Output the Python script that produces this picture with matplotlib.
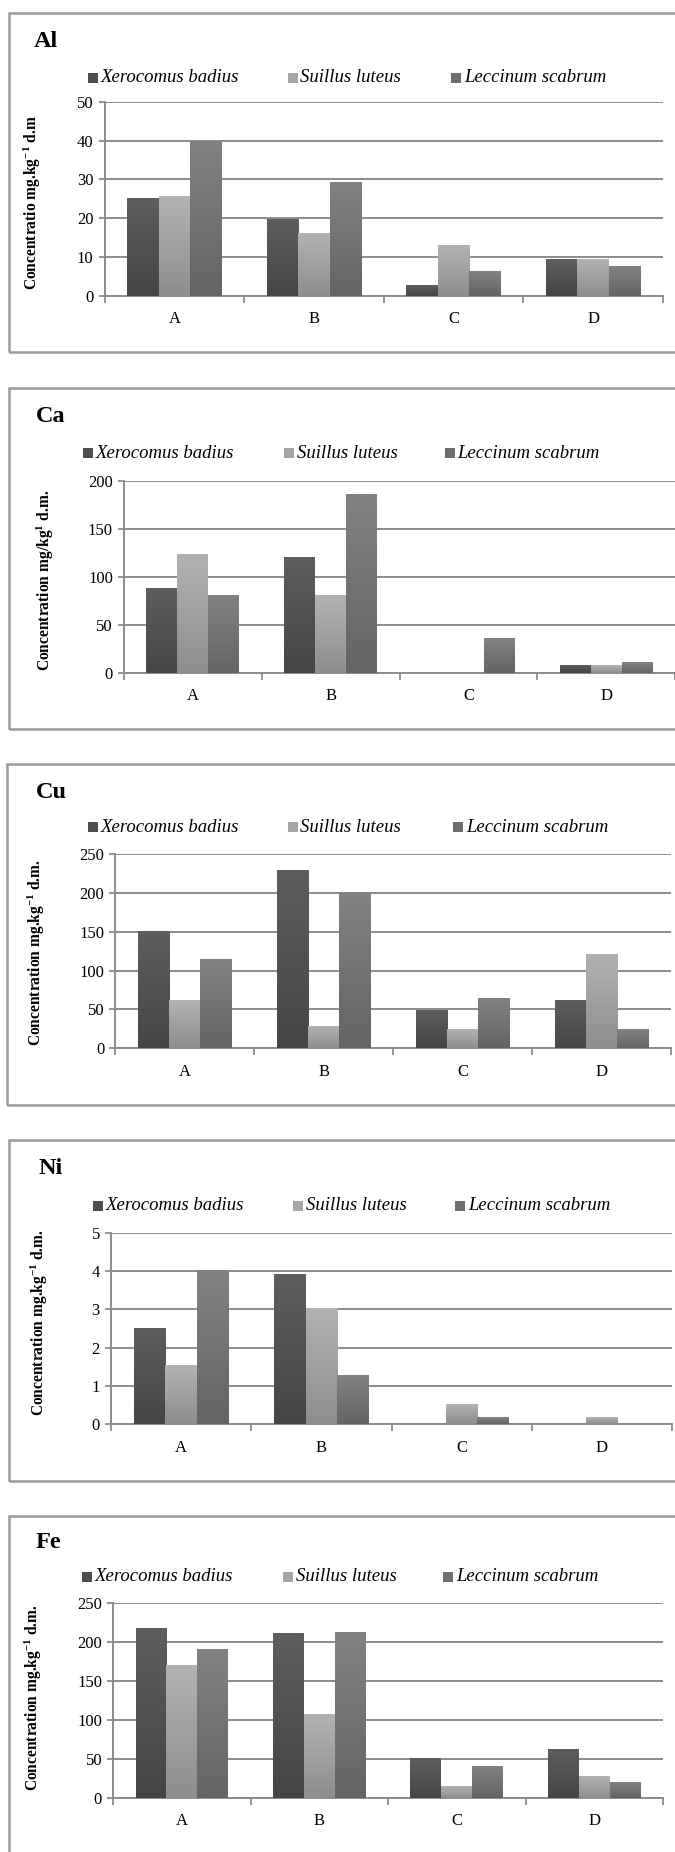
import matplotlib
matplotlib.use("Agg")
import matplotlib.pyplot as plt
import numpy as np
from matplotlib.patches import Rectangle

plt.rcParams['font.family'] = ['Liberation Serif', 'DejaVu Serif']
plt.rcParams['mathtext.fontset'] = 'custom'
plt.rcParams['mathtext.rm'] = 'Liberation Serif'
plt.rcParams['mathtext.bf'] = 'Liberation Serif:bold'
plt.rcParams['mathtext.it'] = 'Liberation Serif:italic'

# Dados
categorias = ["A", "B", "C", "D"]
especies = ["Xerocomus badius", "Suillus luteus", "Leccinum scabrum"]

al_valores = [[25.0, 19.6, 2.8, 9.3],
              [25.5, 16.0, 13.1, 9.3],
              [39.7, 29.3, 6.2, 7.5]]
ca_valores = [[87.8, 120.1, 0.0, 7.6],
              [123.6, 80.6, 0.0, 7.6],
              [80.6, 186.1, 36.1, 10.8]]
cu_valores = [[150.1, 228.1, 48.0, 60.9],
              [60.9, 27.4, 24.4, 120.1],
              [114.5, 200.7, 63.5, 24.4]]
ni_valores = [[2.50, 3.90, 0.0, 0.0],
              [1.52, 3.01, 0.50, 0.17],
              [4.01, 1.26, 0.17, 0.0]]
fe_valores = [[218.3, 211.8, 50.2, 62.6],
              [170.7, 107.6, 15.0, 27.9],
              [191.3, 213.1, 40.7, 20.2]]

elementos = ["Al", "Ca", "Cu", "Ni", "Fe"]
y_maximos = [50, 200, 250, 5, 250]
y_passos = [10, 50, 50, 1, 50]
y_rotulos = [r"Concentratio mg.kg$^{\mathbf{-1}}$ d.m",
             r"Concentration mg/kg$^{\mathbf{1}}$ d.m.",
             r"Concentration mg.kg$^{\mathbf{-1}}$ d.m.",
             r"Concentration mg.kg$^{\mathbf{-1}}$ d.m.",
             r"Concentration mg.kg$^{\mathbf{-1}}$ d.m."]
todos_valores = [al_valores, ca_valores, cu_valores, ni_valores, fe_valores]

# Layout em pixels (x0, x1, y_topo, y_base) de cada painel
W, H = 675, 1852
eixos_px = [(104.6, 663, 101.7, 296.0),
            (124.0, 675, 480.7, 672.7),
            (115.4, 671, 854.0, 1048.3),
            (111.0, 672, 1232.7, 1424.3),
            (113.2, 663, 1603.3, 1797.7)]
molduras_px = [(8.6, 12.7, 352.0), (8.6, 388.3, 729.0), (7.3, 764.0, 1105.0),
               (8.6, 1140.0, 1481.0), (8.6, 1516.5, 1900.0)]
titulos_px = [(34, 41.7), (36, 416.7), (36, 793.0), (39, 1168.3), (36, 1543.0)]
legendas_px = [(77.7, [88, 287.5, 451]), (453.3, [83, 284, 444.7]),
               (827.3, [88, 287.5, 453]), (1206.0, [92.5, 292.7, 455]),
               (1576.7, [81.8, 283, 443.4])]
ylabel_px = [(32, 203), (45, 580), (36.6, 953), (39.6, 1323), (33.6, 1698)]

cores_topo = ["#5e5e5e", "#b2b2b2", "#828282"]
cores_base = ["#454545", "#8e8e8e", "#646464"]
cores_legenda = ["#4e4e4e", "#a6a6a6", "#6e6e6e"]
cinza = "#8c8c8c"

fig = plt.figure(figsize=(W / 100, H / 100), dpi=100)

def fx(px):
    return px / W

def fy(py):
    return 1 - py / H

def gradiente(c_topo, c_base):
    t = np.array(matplotlib.colors.to_rgb(c_topo))
    b = np.array(matplotlib.colors.to_rgb(c_base))
    f = np.linspace(0, 1, 64)[:, None]
    return (t * (1 - f) + b * f)[:, None, :]

largura = 0.225
for i, elem in enumerate(elementos):
    x0, x1, yt, yb = eixos_px[i]
    ax = fig.add_axes([fx(x0), fy(yb), fx(x1 - x0), (yb - yt) / H])
    ax.set_facecolor("none")
    pos = np.arange(len(categorias))
    for j, esp in enumerate(especies):
        barras = ax.bar(pos + (j - 1) * largura, todos_valores[i][j], width=largura,
                        color="none", zorder=3)
        img = gradiente(cores_topo[j], cores_base[j])
        for b in barras:
            h = b.get_height()
            if h <= 0:
                continue
            xb = b.get_x()
            ax.imshow(img, extent=(xb, xb + b.get_width(), 0, h), aspect="auto",
                      zorder=3, interpolation="bilinear")
    ax.set_xlim(-0.5, 3.5)
    ax.set_ylim(0, y_maximos[i])
    ax.set_yticks(np.arange(0, y_maximos[i] + 0.001, y_passos[i]))
    ax.yaxis.grid(True, color=cinza, linewidth=1.4, zorder=1)
    ax.set_axisbelow(True)
    ax.set_xticks(pos, categorias)
    ax.set_xticks(np.arange(-0.5, 4.0, 1.0), minor=True)
    ax.tick_params(axis="x", which="major", length=0, pad=11, labelsize=12)
    ax.tick_params(axis="x", which="minor", length=5, width=1.3, color=cinza)
    ax.tick_params(axis="y", length=4, width=1.3, color=cinza, labelsize=12, pad=4)
    for lado in ["top", "right"]:
        ax.spines[lado].set_visible(False)
    for lado in ["left", "bottom"]:
        ax.spines[lado].set_color(cinza)
        ax.spines[lado].set_linewidth(1.4)

    # Moldura do painel
    mx, mt, mb = molduras_px[i]
    fig.patches.append(Rectangle((fx(mx), fy(mb)), fx(W + 50 - mx), (mb - mt) / H,
                                 transform=fig.transFigure, fill=False,
                                 edgecolor="#9a9a9a", linewidth=1.8))

    # Título
    tx, ty = titulos_px[i]
    fig.text(fx(tx), fy(ty), elem, fontsize=17.5, fontweight="bold", va="center", ha="left")

    # Rótulo do eixo y
    lx, ly = ylabel_px[i]
    fig.text(fx(lx), fy(ly), y_rotulos[i], rotation=90, fontsize=11.2,
             fontweight="bold", va="center", ha="center")

    # Legenda
    ly_leg, xs = legendas_px[i]
    for j, esp in enumerate(especies):
        fig.patches.append(Rectangle((fx(xs[j]), fy(ly_leg + 5)), fx(10), 10 / H,
                                     transform=fig.transFigure,
                                     facecolor=cores_legenda[j], edgecolor="none"))
        fig.text(fx(xs[j] + 13), fy(ly_leg), esp, fontsize=13.5, fontstyle="italic",
                 va="center", ha="left")

fig.savefig("out.png", dpi=100, facecolor="white")
